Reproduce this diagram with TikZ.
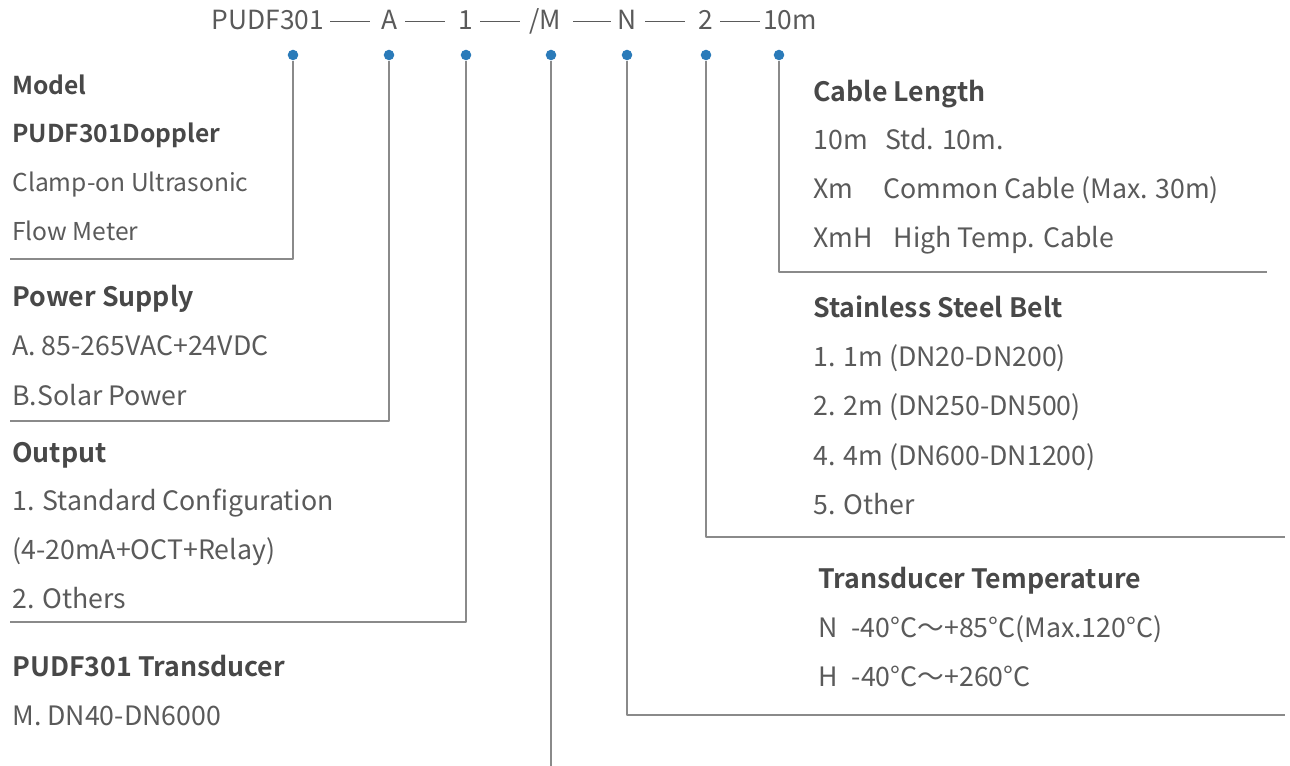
\documentclass[tikz,border=0pt]{standalone}
\usepackage{fontspec}
\setmainfont{Noto Sans CJK SC}[BoldFont={Noto Sans CJK SC Bold}]
\definecolor{txtgray}{HTML}{5A5A5A}
\definecolor{headgray}{HTML}{484848}
\definecolor{linegray}{HTML}{8A8A8A}
\definecolor{dotblue}{HTML}{2B7BB9}
\tikzset{
  code/.style={inner sep=0pt,anchor=base,text=txtgray,font=\fontsize{15}{15}\selectfont},
  head/.style={inner sep=0pt,anchor=base west,text=headgray,font=\fontsize{15.2}{15}\selectfont\bfseries},
  item/.style={inner sep=0pt,anchor=base west,text=txtgray,font=\fontsize{15.2}{15}\selectfont},
  small/.style={font=\fontsize{14}{14}\selectfont},
  smallhead/.style={font=\fontsize{14}{14}\selectfont\bfseries},
  dot/.style={circle,fill=dotblue,inner sep=0pt,minimum size=6pt},
  lead/.style={draw=linegray,line width=0.8pt},
  codedash/.style={draw=txtgray,line width=0.5pt}
}
\begin{document}
\begin{tikzpicture}[x=0.02cm,y=-0.02cm,line join=round]
\useasboundingbox (0,0) rectangle (1290,766);
\node[code](cP) at (268,30){PUDF301};
\node[code](cA) at (390,30){A};
\node[code](cO) at (466,30){1};
\node[code](cM) at (545,30){/M};
\node[code](cN) at (627,30){N};
\node[code](cB) at (706,30){2};
\node[code](cL) at (790,30){10m};
\draw[codedash] (330,21)--(370,21) (405,21)--(445,21) (480,21)--(520,21) (573,21)--(611,21) (645,21)--(685,21) (720,21)--(760,21);
\node[dot](dP) at (293,55){};
\node[dot](dA) at (389,55){};
\node[dot](dO) at (466,55){};
\node[dot](dM) at (551,55){};
\node[dot](dN) at (627,55){};
\node[dot](dB) at (706,55){};
\node[dot](dL) at (779,55){};
\coordinate (eP) at (10,259);
\coordinate (eA) at (10,421);
\coordinate (eO) at (10,622);
\coordinate (eM) at (551,766);
\coordinate (eN) at (1285,715);
\coordinate (eB) at (1285,537);
\coordinate (eL) at (1267,272);
\draw[lead] (dP)|-(eP);
\draw[lead] (dA)|-(eA);
\draw[lead] (dO)|-(eO);
\draw[lead] (dM)--(eM);
\draw[lead] (dN)|-(eN);
\draw[lead] (dB)|-(eB);
\draw[lead] (dL)|-(eL);
\node[head,smallhead](model) at (12,95){Model};
\node[head,smallhead](modelname) at (12,143){PUDF301Doppler};
\node[item,small](model1) at (12,192){Clamp-on Ultrasonic};
\node[item,small](model2) at (12,241){Flow Meter};
\node[head](power) at (12,307){Power Supply};
\node[item](power1) at (12,356){A. 85-265VAC+24VDC};
\node[item](power2) at (12,405){B.Solar Power};
\node[head](output) at (12,462){Output};
\node[item](output1) at (12,510){1. Standard Configuration};
\node[item](output2) at (12,559){(4-20mA+OCT+Relay)};
\node[item](output3) at (12,608){2. Others};
\node[head](trans) at (12,676){PUDF301 Transducer};
\node[item](trans1) at (12,725){M. DN40-DN6000};
\node[head](cable) at (813,102){Cable Length};
\node[item](cable1) at (813,150){10m\hspace{10pt}Std. 10m.};
\node[item](cable2) at (813,199){Xm\hspace{17pt}Common Cable (Max. 30m)};
\node[item](cable3) at (813,248){XmH\hspace{12pt}High Temp. Cable};
\node[head](belt) at (813,318){Stainless Steel Belt};
\node[item](belt1) at (813,367){1. 1m (DN20-DN200)};
\node[item](belt2) at (813,416){2. 2m (DN250-DN500)};
\node[item](belt3) at (813,465){4. 4m (DN600-DN1200)};
\node[item](belt4) at (813,514){5. Other};
\node[head](temp) at (818,588){Transducer Temperature};
\node[item](temp1) at (818,637){N\hspace{8pt}-40°C～+85°C(Max.120°C)};
\node[item](temp2) at (818,686){H\hspace{8pt}-40°C～+260°C};
\end{tikzpicture}
\end{document}
